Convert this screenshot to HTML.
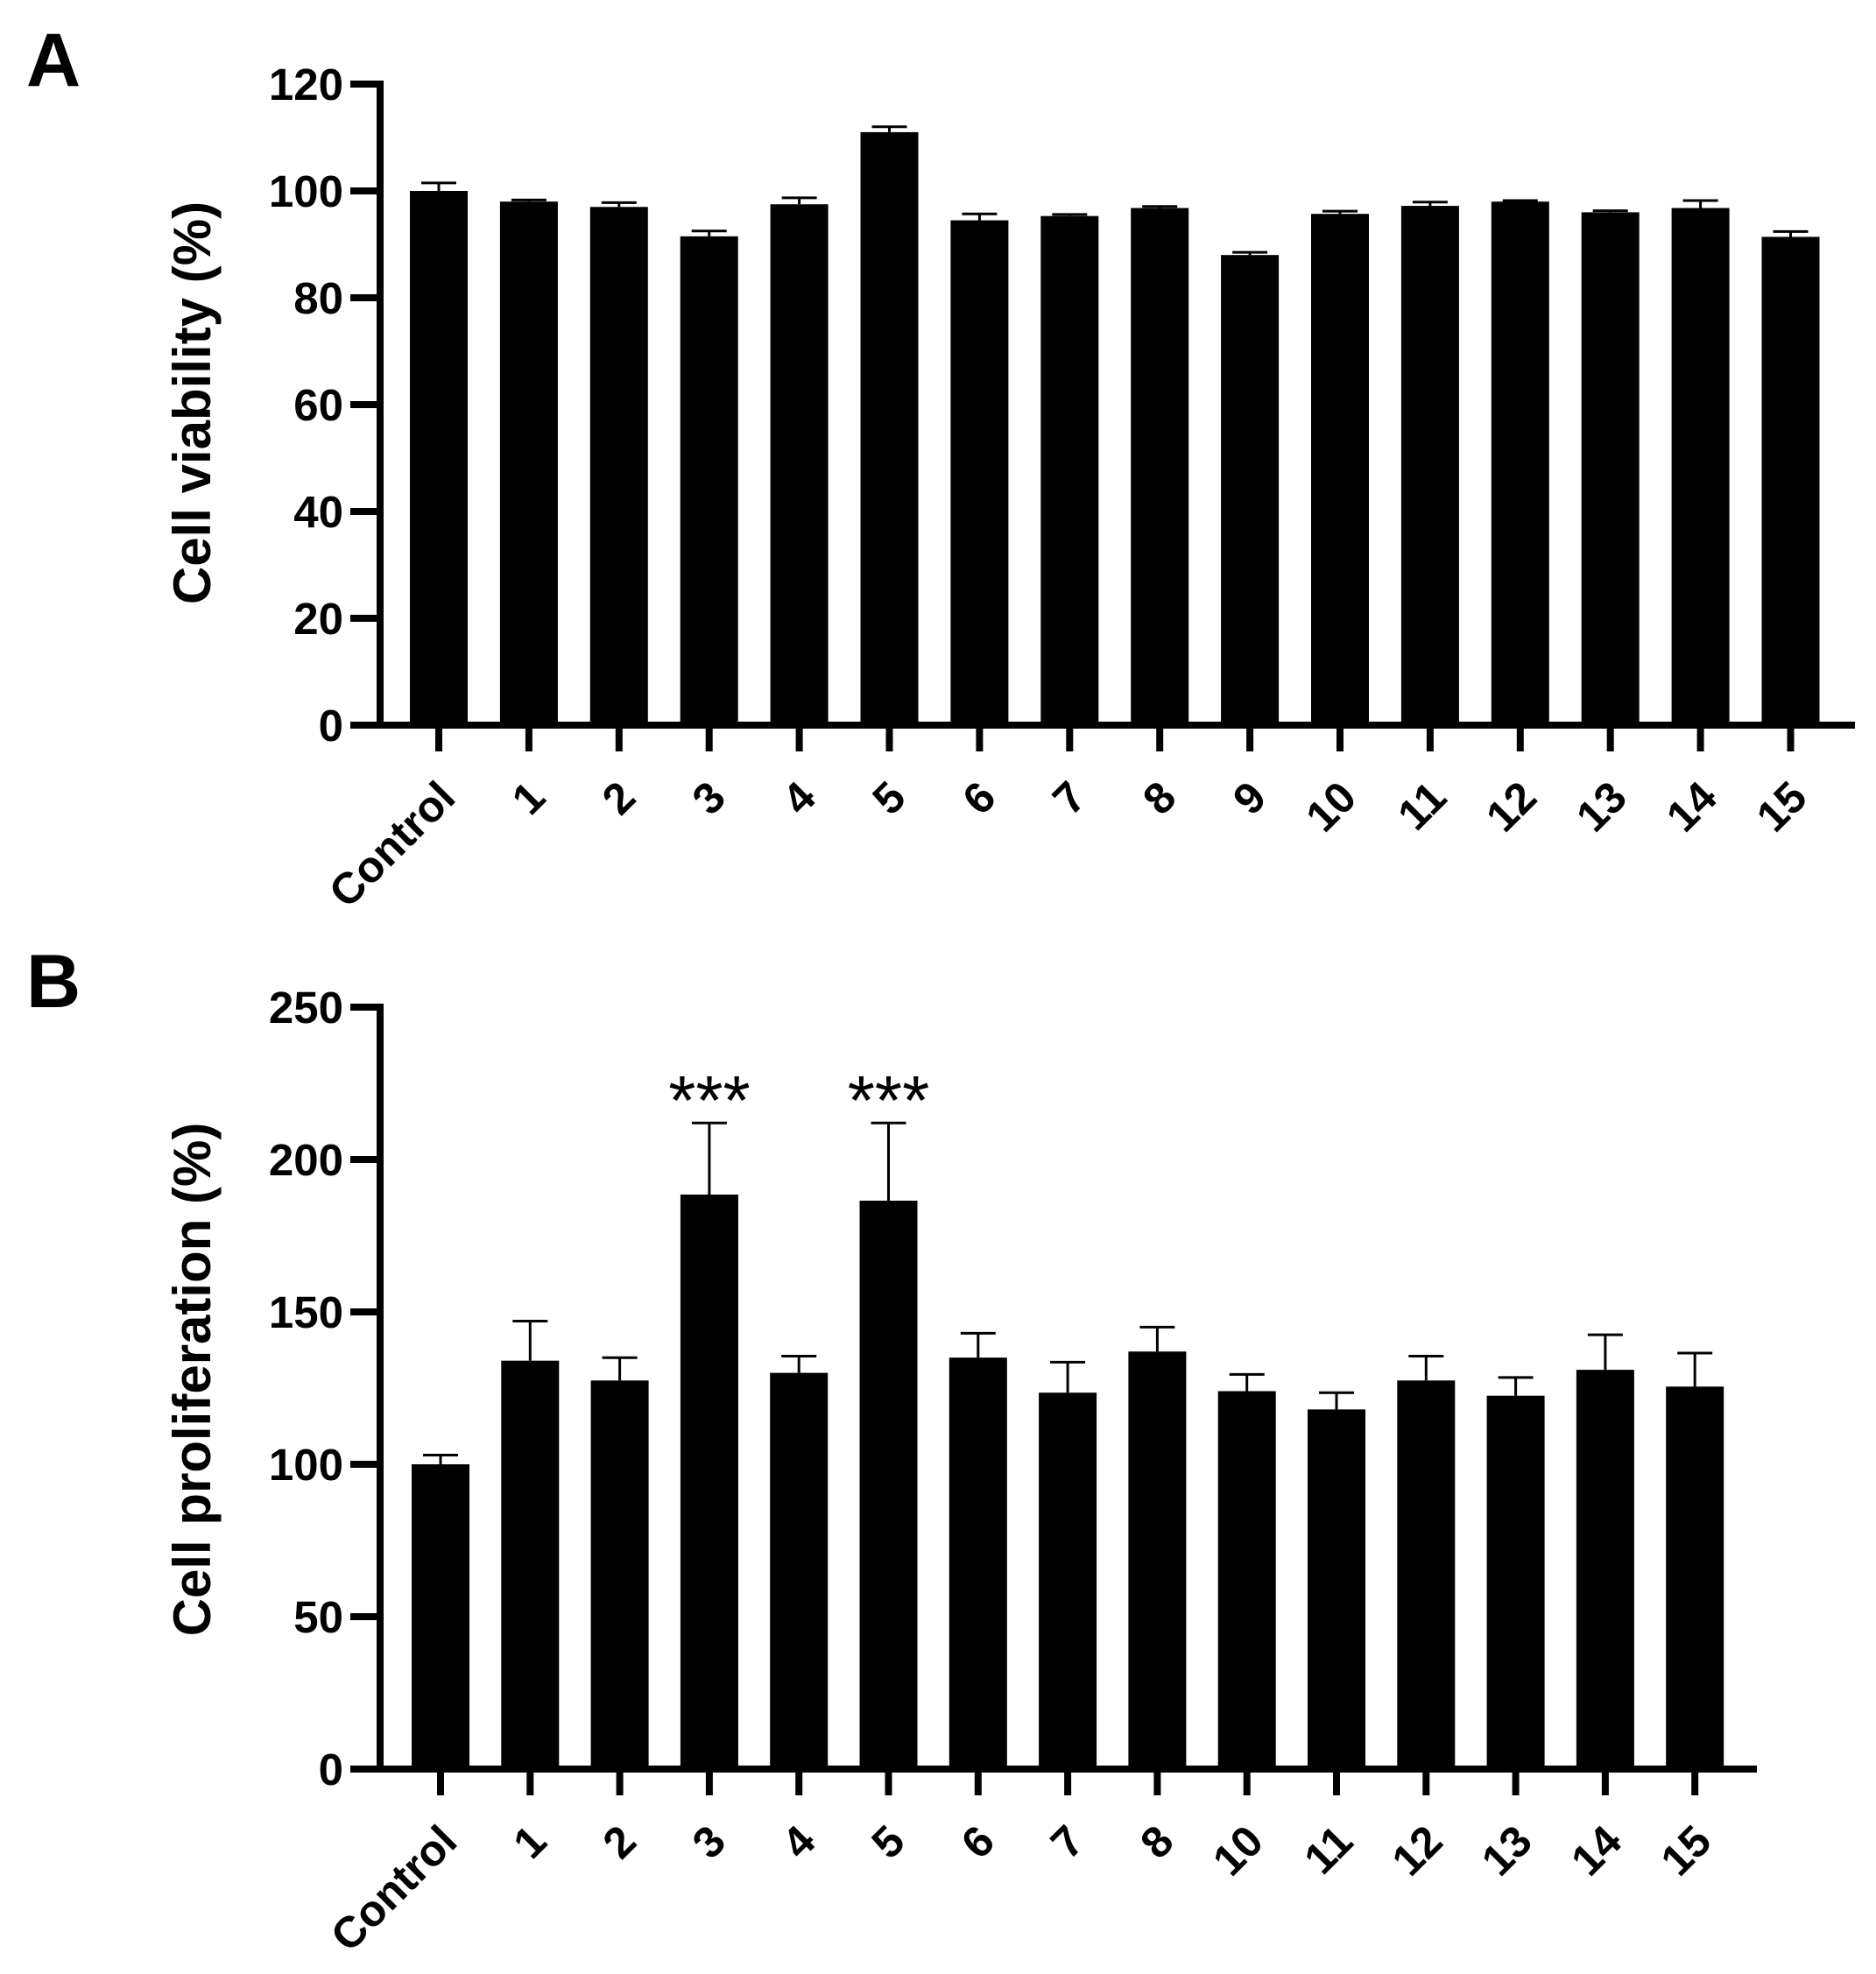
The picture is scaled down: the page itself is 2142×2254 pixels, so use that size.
<!DOCTYPE html>
<html><head><meta charset="utf-8"><style>html,body{margin:0;padding:0;background:#fff}svg{display:block}text{font-family:"Liberation Sans",Arial,sans-serif}</style></head>
<body>
<svg id="chart" width="2142" height="2254" viewBox="0 0 2142 2254" xmlns="http://www.w3.org/2000/svg"></svg>
<script>
const catsA = ["Control","1","2","3","4","5","6","7","8","9","10","11","12","13","14","15"];
const valsA = [100,98,97,91.5,97.5,111,94.5,95.3,96.8,88,95.7,97.2,98,96,96.8,91.4];
const errA = [1.5,0.3,0.8,1,1.2,1,1.2,0.3,0.3,0.5,0.5,0.7,0.2,0.3,1.4,1];
const ticksA = [0,20,40,60,80,100,120];
const catsB = ["Control","1","2","3","4","5","6","7","8","10","11","12","13","14","15"];
const valsB = [100,134,127.5,188.5,130,186.5,135,123.5,137,124,118,127.5,122.5,131,125.5];
const errB = [3,13,7.5,23.5,5.5,25.5,8,10,8,5.5,5.5,8,6,11.5,11];
const ticksB = [0,50,100,150,200,250];
const sigB = ["","","","***","","***","","","","","","","","",""];

const NS="http://www.w3.org/2000/svg";
const svg=document.getElementById('chart');
function mk(tag,attrs,parent){const e=document.createElementNS(NS,tag);for(const k in attrs)e.setAttribute(k,attrs[k]);(parent||svg).appendChild(e);return e;}

function panel(o){
  const g=mk('g',{});
  
  
  const y=v=>o.y0-(v-o.ymin)/(o.ymax-o.ymin)*(o.y0-o.y1);
  const x=i=>o.x0+i*o.step;
  const L=mk('text',{x:30,y:o.letterY,'font-size':86,'font-weight':'bold'},g);L.textContent=o.letter;
  
  
  o.cats.forEach((c,i)=>{
    const b=mk('rect',{x:x(i)-33,y:y(o.vals[i]),width:66,height:o.y0-y(o.vals[i]),fill:'#000'},g);
    
    
    const top=y(o.vals[i]+o.err[i]);
    const e=mk('path',{d:`M${x(i)} ${y(o.vals[i])}V${top}M${x(i)-20} ${top}H${x(i)+20}`,stroke:'#000','stroke-width':3,fill:'none'},g);
    
    
    if(o.sig&&o.sig[i]){const s=mk('text',{x:x(i),y:top+2,'font-size':80,'text-anchor':'middle'},g);s.textContent=o.sig[i];
      
      }
    const t=mk('path',{d:`M${x(i)} ${o.y0}V${o.y0+30}`,stroke:'#000','stroke-width':8},g);
    
    
    const lx=x(i)-4, ly=o.y0+60;
    const tl=mk('text',{x:lx,y:ly,'font-size':50,'font-weight':'bold','text-anchor':'end',transform:`rotate(-45 ${lx} ${ly})`,'dominant-baseline':'hanging'},g);
    tl.textContent=c;
    
    
  });
  const ax=mk('path',{d:`M${o.axX} ${o.y1-4}V${o.y0}H${o.xEnd}`,stroke:'#000','stroke-width':8,fill:'none'},g);
  
  
  o.ticks.forEach(v=>{
    const t=mk('path',{d:`M${o.axX-34} ${y(v)}H${o.axX}`,stroke:'#000','stroke-width':8},g);
    
    
    const tl=mk('text',{x:o.axX-42,y:y(v)+18,'font-size':51,'font-weight':'bold','text-anchor':'end'},g);
    tl.textContent=v;
    
    
  });
  const cy=o.titleY;
  const yt=mk('text',{x:240,y:cy,'font-size':60,'font-weight':'bold','text-anchor':'middle',transform:`rotate(-90 240 ${cy})`},g);
  yt.textContent=o.title;
  
  
}
panel({name:'panel-a-viability',letter:'A',letterY:98,cats:catsA,vals:valsA,err:errA,ticks:ticksA,ymin:0,ymax:120,y0:828,y1:96,x0:501,step:102.9,axX:434,xEnd:2118,title:'Cell viability (%)',titleY:460});
panel({name:'panel-b-proliferation',letter:'B',letterY:1150,cats:catsB,vals:valsB,err:errB,ticks:ticksB,sig:sigB,ymin:0,ymax:250,y0:2020,y1:1150,x0:503,step:102.3,axX:434,xEnd:2006,title:'Cell proliferation (%)',titleY:1575});
</script>
</body></html>
